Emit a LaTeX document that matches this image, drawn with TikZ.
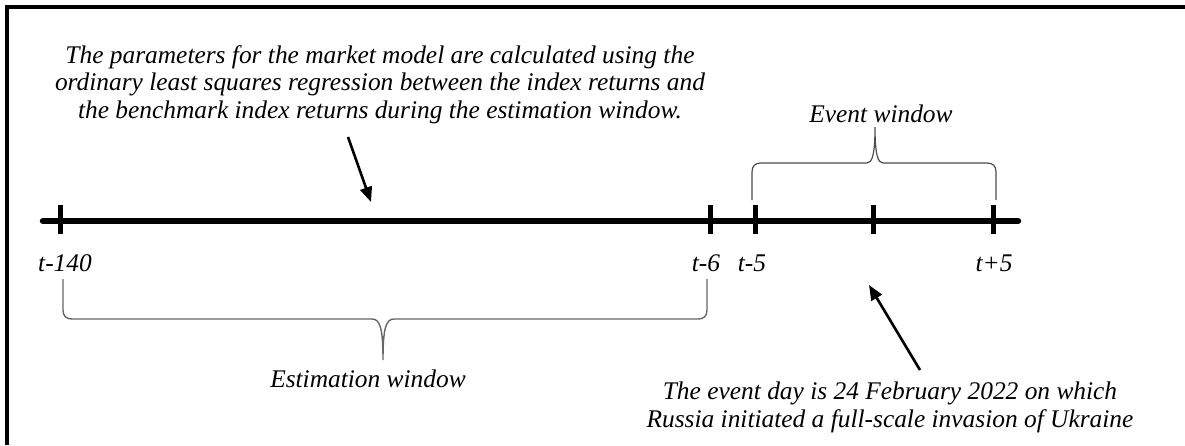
\documentclass[tikz,border=0pt]{standalone}
\usepackage{fontspec}
\setmainfont{Liberation Serif}
\usetikzlibrary{arrows.meta}
\begin{document}
\begin{tikzpicture}[x=1pt,y=-1pt,
  lbl/.style={font=\fontsize{25.4}{27.5}\selectfont\itshape, inner sep=0pt, anchor=base},
  txt/.style={lbl, align=center},
  axis/.style={line width=6.5pt, line cap=round},
  tickmark/.style={line width=5pt},
  brace/.style={draw=black!60, line width=1.4pt},
  pointer/.style={line width=2.6pt, -{Triangle[length=15pt,width=12pt]}}]
\useasboundingbox (0,0) rectangle (1185,445);
% frame
\draw[line width=4pt] (7,445) -- (7,7) -- (1185,7);
% axis
\coordinate (L) at (43,221);
\coordinate (R) at (1018,221);
\draw[axis] (L) -- (R);
\foreach \n/\x in {k1/60,k2/710,k3/755,k4/873,k5/993}{
  \coordinate (\n) at (\x,221);
  \draw[tickmark] ([yshift=-13pt]\n) -- ([yshift=16pt]\n);
}
% tick labels
\node[lbl] (l140) at (65,271) {t-140};
\node[lbl] (l6) at (706,271) {t-6};
\node[lbl] (l5) at (752,271) {t-5};
\node[lbl] (lp5) at (994,271) {t+5};
% estimation brace
\draw[brace] (63,279) -- (63,310) .. controls (63,316) and (66,319) .. (72,319) -- (372,319)
  .. controls (380,319) and (383,328) .. (383,360)
  .. controls (383,328) and (386,319) .. (394,319) -- (698,319)
  .. controls (704,319) and (707,316) .. (707,310) -- (707,279);
\node[lbl] (est) at (368,387) {Estimation window};
% event brace
\draw[brace, draw=black!70, line width=1.2pt] (752,200) -- (752,172) .. controls (752,166) and (755,163) .. (761,163) -- (867,163)
  .. controls (872,163) and (875,155) .. (875,127)
  .. controls (875,155) and (878,163) .. (883,163) -- (987,163)
  .. controls (993,163) and (996,166) .. (996,172) -- (996,200);
\node[lbl] (evt) at (881,122) {Event window};
% top text (base anchor = last line)
\node[txt] (top) at (380,118) {The parameters for the market model are calculated using the\\ordinary least squares regression between the index returns and\\the benchmark index returns during the estimation window.};
\coordinate (a1s) at (348,137);
\coordinate (a1e) at (371,202);
\draw[pointer] (a1s) -- (a1e);
% bottom text
\node[txt] (bot) at (890,427) {The event day is 24 February 2022 on which\\Russia initiated a full-scale invasion of Ukraine};
\coordinate (a2s) at (920,370);
\coordinate (a2e) at (869,285);
\draw[pointer] (a2s) -- (a2e);
\end{tikzpicture}
\end{document}
